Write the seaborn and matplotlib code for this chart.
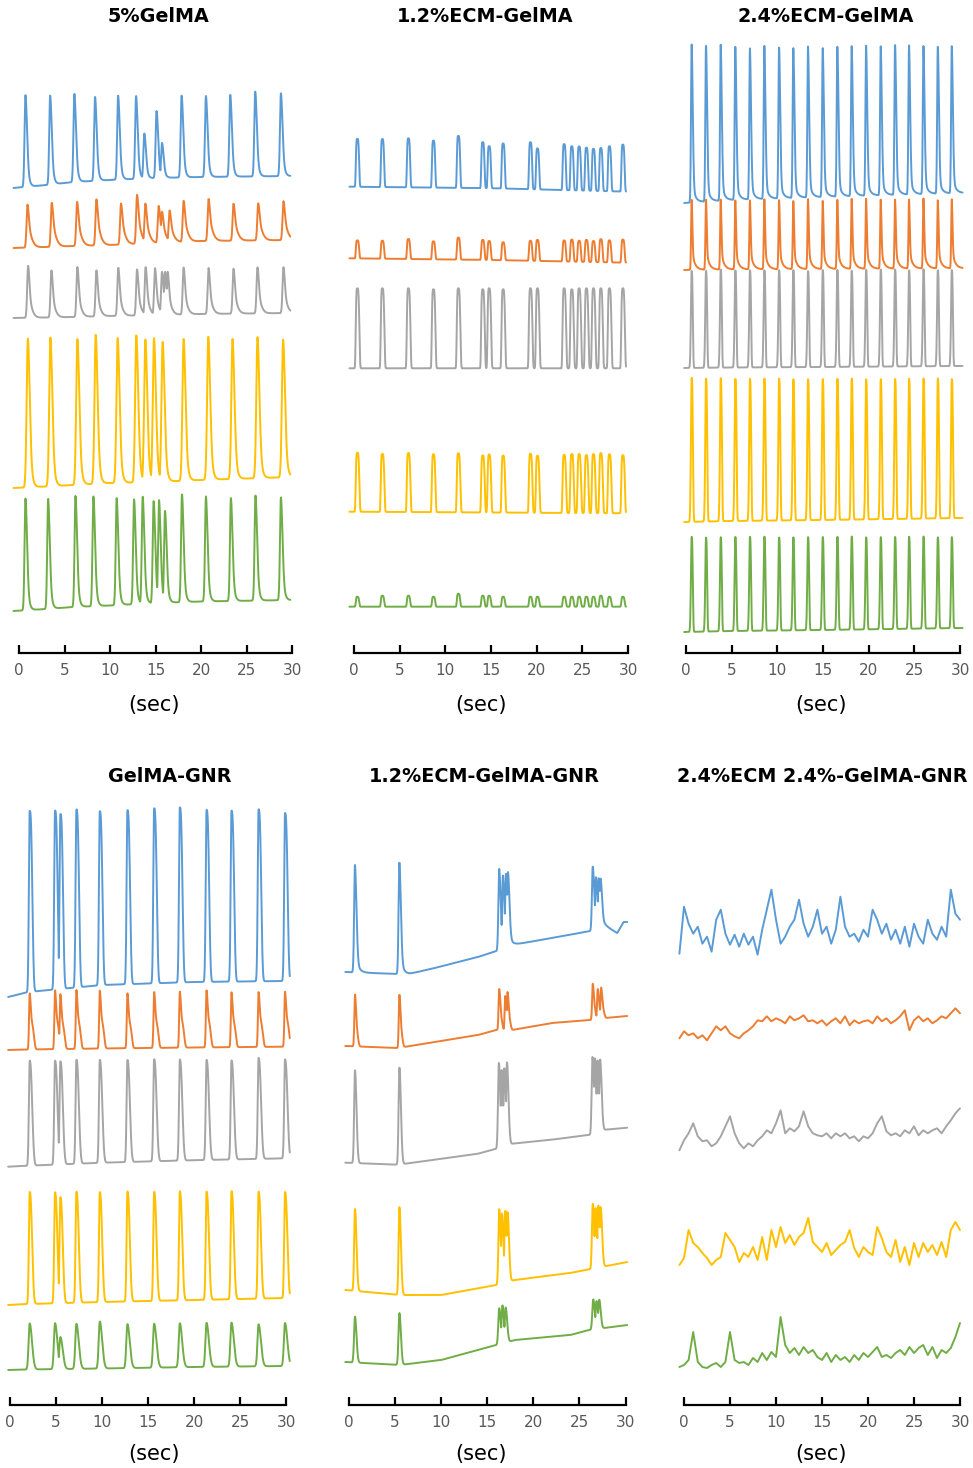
import numpy as np
import pandas as pd
import matplotlib
matplotlib.use("Agg")
import matplotlib.pyplot as plt
import seaborn as sns

# ---------------- data (ΔF, arbitrary units; times in seconds) ----------------
TRACES = ["Trace 1", "Trace 2", "Trace 3", "Trace 4", "Trace 5"]
TITLES = ["5%GelMA", "1.2%ECM-GelMA", "2.4%ECM-GelMA",
          "GelMA-GNR", "1.2%ECM-GelMA-GNR", "2.4%ECM 2.4%-GelMA-GNR"]
XTICKS = [0, 5, 10, 15, 20, 25, 30]

# Panel 1: 5%GelMA  (peak times / peak heights / baseline drift)
P1_T_BLUE = [0.71, 3.42, 6.08, 8.35, 10.88, 12.85, 13.76, 15.1, 15.7, 17.85, 20.52, 23.19, 25.93, 28.75]
P1_H_BLUE = [92, 89, 88, 84, 84, 83, 45, 67, 35, 82, 81, 82, 85, 83]
P1_T_ORANGE = [0.93, 3.6, 6.38, 8.5, 11.2, 12.96, 13.87, 15.33, 15.7, 16.53, 18.07, 20.81, 23.55, 26.26, 29.03]
P1_H_ORANGE = [43, 44, 44, 46, 41, 49, 40, 37, 31, 32, 41, 42, 37, 37, 39]
P1_T_GRAY = [1.0, 3.56, 6.41, 8.5, 10.9, 12.96, 13.9, 14.93, 15.7, 16.03, 16.32, 18.07, 20.81, 23.55, 26.18, 29.03]
P1_H_GRAY = [52, 47, 50, 46, 48, 46, 48, 47, 43, 43, 43, 47, 46, 45, 46, 46]
P1_T_YELLOW = [0.97, 3.45, 6.41, 8.42, 10.83, 12.88, 13.87, 14.82, 15.77, 18.07, 20.78, 23.44, 26.18, 28.99]
P1_H_YELLOW = [149, 149, 146, 149, 145, 147, 143, 144, 140, 142, 143, 140, 141, 138]
P1_T_GREEN = [0.71, 3.2, 6.2, 8.17, 10.72, 12.63, 13.58, 14.78, 15.37, 16.03, 17.89, 20.52, 23.26, 25.96, 28.75]
P1_H_GREEN = [112, 110, 111, 110, 107, 105, 107, 102, 103, 92, 108, 105, 103, 105, 103]
P1_DRIFT_T = [-0.6, 3, 6, 10, 15, 20, 30]
P1_DRIFT_BLUE = [0, 3, 6, 8, 10, 11, 12]
P1_DRIFT_ORANGE = [0, 1, 2, 3, 5, 7, 8]
P1_DRIFT_GRAY = [0, 0.5, 1, 2, 3, 4, 5]
P1_DRIFT_YELLOW = [0, 1.5, 3, 5, 6, 8, 11]
P1_DRIFT_GREEN = [0, 2, 4, 5.5, 8, 9.5, 11]

# Panel 2: 1.2%ECM-GelMA (all traces share peak times)
P2_T = [0.36, 3.1, 5.95, 8.69, 11.42, 14.09, 14.79, 16.32, 19.31, 20.08, 23.0, 23.84, 24.64, 25.44, 26.21, 27.02, 27.96, 29.43]
P2_H_BLUE = [48, 48, 49, 47, 52, 46, 42, 45, 47, 41, 46, 44, 44, 43, 42, 43, 45, 47]
P2_H_ORANGE = [18, 18, 20, 18, 22, 20, 19, 18, 20, 21, 21, 22, 21, 22, 21, 23, 22, 23]
P2_H_GRAY = [80, 80, 80, 79, 80, 79, 80, 79, 80, 80, 80, 79, 80, 80, 80, 80, 80, 80]
P2_H_YELLOW = [59, 58, 59, 58, 59, 57, 58, 57, 59, 57, 58, 59, 59, 58, 59, 60, 59, 58]
P2_H_GREEN = [10, 11, 11, 10, 13, 11, 11, 10, 10, 10, 10, 10, 10, 10, 10, 11, 10, 10]
P2_DRIFT_T = [-0.5, 15, 30]
P2_DRIFT_BLUE = [0, -1.5, -5]
P2_DRIFT_ORANGE = [0, -1.7, -4.4]
P2_DRIFT_GRAY = [0, 0, 0]
P2_DRIFT_YELLOW = [0, -0.8, -1.6]
P2_DRIFT_GREEN = [0, 0, 0]

# Panel 3: 2.4%ECM-GelMA
P3_T = [0.62, 2.19, 3.8, 5.4, 7.0, 8.58, 10.19, 11.75, 13.36, 14.97, 16.57, 18.14, 19.72, 21.32, 22.89, 24.42, 26.0, 27.57, 29.1]
P3_H_BLUE = [158, 157, 156, 153, 151, 153, 152, 151, 151, 150, 151, 150, 150, 149, 151, 149, 148, 148, 147]
P3_H_ORANGE = [70, 71, 70, 69, 69, 70, 70, 69, 70, 69, 70, 70, 70, 69, 70, 69, 70, 69, 69]
P3_H_GRAY = [97, 97, 98, 97, 97, 97, 97, 97, 96, 97, 97, 96, 97, 97, 97, 96, 97, 96, 96]
P3_H_YELLOW = [144, 143, 143, 142, 142, 142, 142, 141, 141, 141, 141, 141, 140, 140, 140, 140, 140, 140, 139]
P3_H_GREEN = [95, 94, 94, 94, 94, 94, 93, 93, 93, 93, 93, 93, 92, 92, 92, 92, 92, 91, 91]
P3_DRIFT_T = [-0.2, 5, 15, 30]
P3_DRIFT_BLUE = [0, 3, 6, 10]
P3_DRIFT_ORANGE = [0, 0.5, 1, 1.7]
P3_DRIFT_GRAY = [0, 0.5, 1, 2]
P3_DRIFT_YELLOW = [0, 1, 2, 4]
P3_DRIFT_GREEN = [0, 1, 2, 4]

# Panel 4: GelMA-GNR
P4_T = [2.14, 4.89, 5.47, 7.21, 9.75, 12.75, 15.65, 18.44, 21.34, 24.05, 26.99, 29.86]
P4_H_BLUE = [181, 179, 175, 178, 174, 174, 175, 175, 172, 171, 172, 168]
P4_H_ORANGE = [56, 59, 55, 59, 58, 55, 56, 56, 57, 55, 55, 55]
P4_H_GRAY = [105, 104, 103, 104, 103, 102, 102, 101, 100, 99, 101, 99]
P4_H_YELLOW = [112, 111, 106, 111, 110, 110, 109, 109, 108, 108, 107, 106]
P4_H_GREEN = [46, 46, 32, 45, 47, 44, 44, 44, 44, 44, 42, 43]
P4_DRIFT_T = [-0.2, 2, 10, 20, 30]
P4_DRIFT_BLUE = [0, 5, 12, 15, 16]
P4_DRIFT_ORANGE = [0, 0.5, 1.5, 2.5, 3.3]
P4_DRIFT_GRAY = [0, 1, 4, 6.5, 8.4]
P4_DRIFT_YELLOW = [0, 1, 3, 5, 7]
P4_DRIFT_GREEN = [0, 0.5, 1.5, 3, 4]

# Panel 5: 1.2%ECM-GelMA-GNR
P5_T_BLUE = [0.65, 5.47, 16.3, 16.7, 17.03, 17.25, 26.45, 26.8, 27.1, 27.3]
P5_H_BLUE = [108, 112, 81, 73, 74, 75, 64, 52, 50, 49]
P5_T_ORANGE = [0.65, 5.47, 16.3, 16.96, 17.2, 26.45, 26.99, 27.36]
P5_H_ORANGE = [52, 53, 41, 34, 38, 36, 30, 31]
P5_T_GRAY = [0.65, 5.47, 16.26, 16.56, 16.85, 17.14, 26.42, 26.67, 26.96, 27.25]
P5_H_GRAY = [93, 97, 85, 77, 78, 83, 77, 75, 72, 72]
P5_T_YELLOW = [0.65, 5.47, 16.3, 16.6, 16.95, 17.2, 26.45, 26.75, 27.05, 27.3]
P5_H_YELLOW = [82, 88, 75, 70, 72, 70, 65, 60, 62, 60]
P5_T_GREEN = [0.65, 5.47, 16.3, 16.65, 17.0, 26.5, 26.85, 27.15]
P5_H_GREEN = [46, 52, 36, 38, 35, 30, 28, 29]
P5_DRIFT_T_BLUE = [-0.4, 5.3, 6.5, 9.3, 14, 16, 17.7, 22, 26.2, 27.8, 29.1, 29.8]
P5_DRIFT_BLUE = [0, -2, -2, 4, 15, 21, 27, 34, 41, 46, 39, 50]
P5_DRIFT_T_OG = [-0.4, 5.3, 9.3, 14, 16, 17.7, 22, 26.2, 27.8, 30.2]
P5_DRIFT_ORANGE = [0, -2, 4, 11, 16, 16, 23, 26, 28, 30]
P5_DRIFT_GRAY = [0, -2, 3, 9, 14, 19, 23, 28, 33, 35]
P5_DRIFT_T_YELLOW = [-0.4, 5.5, 10, 16, 18, 24, 30.2]
P5_DRIFT_YELLOW = [0, -5, -5, 5, 10, 17, 28]
P5_DRIFT_T_GREEN = [-0.4, 5.5, 10, 16, 18, 24, 26, 30.2]
P5_DRIFT_GREEN = [0, -3, 2, 17, 22, 27, 32, 37]

# Panel 6: 2.4%ECM 2.4%-GelMA-GNR, read every 0.5 s from -0.5 s to 30 s
P6_T0, P6_DT = -0.5, 0.5
P6_BLUE = [3, 50, 33, 23, 30, 13, 20, 5, 37, 47, 23, 12, 22, 10, 23, 12, 20, 2, 27, 47, 67, 37, 13,
           20, 30, 37, 57, 33, 20, 30, 47, 23, 30, 13, 27, 60, 30, 20, 23, 15, 27, 20, 47, 37, 23,
           33, 17, 27, 13, 30, 10, 33, 20, 13, 37, 23, 17, 30, 20, 67, 43, 37]
P6_ORANGE = [5, 12, 8, 10, 5, 8, 3, 10, 17, 13, 17, 10, 7, 5, 10, 13, 17, 23, 22, 27, 22, 25, 23,
             20, 27, 23, 25, 28, 22, 23, 20, 23, 18, 22, 25, 20, 27, 18, 23, 20, 22, 23, 20, 27,
             22, 25, 20, 23, 27, 33, 13, 23, 27, 22, 25, 20, 23, 27, 25, 30, 35, 30]
P6_GRAY = [3, 13, 20, 30, 17, 12, 13, 7, 10, 17, 27, 37, 20, 10, 5, 10, 7, 13, 17, 23, 20, 30, 43,
           20, 25, 22, 27, 42, 27, 20, 18, 17, 20, 15, 20, 17, 20, 15, 17, 12, 17, 15, 20, 30,
           37, 22, 18, 20, 17, 23, 20, 27, 18, 23, 20, 23, 25, 20, 27, 33, 40, 45]
P6_YELLOW = [5, 12, 40, 27, 23, 17, 12, 5, 10, 13, 37, 30, 23, 8, 17, 13, 23, 10, 33, 10, 40, 23,
             43, 27, 35, 25, 33, 37, 52, 28, 23, 18, 27, 15, 20, 25, 28, 40, 22, 13, 23, 18, 15,
             43, 32, 18, 13, 30, 8, 23, 5, 27, 13, 27, 18, 25, 15, 28, 13, 40, 48, 40]
P6_GREEN = [3, 5, 10, 38, 8, 3, 2, 5, 7, 3, 8, 38, 10, 7, 8, 5, 12, 8, 17, 10, 18, 13, 53, 25,
            17, 22, 15, 23, 17, 20, 13, 10, 17, 8, 15, 10, 13, 8, 15, 10, 17, 13, 18, 23, 13, 15,
            12, 17, 20, 15, 23, 17, 22, 25, 15, 23, 12, 20, 17, 22, 33, 47]

# ---------------- layout / style ----------------
W, H = 973, 1468
COLORS = ["#5B9BD5", "#ED7D31", "#A5A5A5", "#FFC000", "#70AD47"]
PANEL_X = [(19, 292.3), (354, 628), (686, 960), (10, 286.3), (349, 625.5), (684, 960)]
ROW_Y = [(30, 653), (780, 1405)]
TITLE_POS = [(158, 16), (485, 16), (826, 16), (170, 776), (484, 776), (822, 776)]
SEC_POS = [(154, 705), (481, 705), (821, 705), (154, 1454), (481, 1454), (821, 1454)]
TRACE_SPAN = [(-0.6, 29.8), (-0.5, 29.8), (-0.2, 30.3), (-0.2, 30.4), (-0.4, 30.2)]
# vertical stacking of the five traces (baseline row of each trace, in pixels)
OFFSETS = [[188, 248, 318, 488, 611],
           [186.7, 258.3, 368.3, 511.7, 606.7],
           [203, 270, 368, 522, 632],
           [997, 1050, 1166.7, 1305, 1370],
           [972, 1046, 1162.7, 1290, 1362],
           [956.7, 1043.3, 1153.3, 1270, 1370]]


def S(r, d, p=2.0, rp=2.0, f=0.0, tau=0.3, q=1.0):
    return dict(r=r, d=d, p=p, rp=rp, f=f, tau=tau, q=q)


SHAPES = [
    [S(0.1, 0.17, f=0.3, tau=0.35, q=1.5), S(0.1, 0.14, f=0.55, tau=0.5, q=1.5),
     S(0.1, 0.14, f=0.45, tau=0.45, q=1.5), S(0.13, 0.2, f=0.3, tau=0.4, q=1.5),
     S(0.1, 0.17, f=0.3, tau=0.35, q=1.5)],
    [S(0.15, 0.19, p=4, rp=4), S(0.15, 0.19, p=4, rp=4), S(0.16, 0.21, p=4, rp=4),
     S(0.16, 0.21, p=4, rp=4), S(0.15, 0.19, p=4, rp=4)],
    [S(0.07, 0.12, f=0.15, tau=0.3), S(0.06, 0.08, f=0.3, tau=0.3), S(0.08, 0.12, p=3),
     S(0.08, 0.13, p=3), S(0.08, 0.12, p=3)],
    [S(0.09, 0.27, p=3), S(0.07, 0.1, f=0.5, tau=0.5, q=4), S(0.09, 0.26, p=2.5),
     S(0.09, 0.25, p=2.5), S(0.12, 0.25)],
    [S(0.09, 0.16, f=0.2, tau=0.3), S(0.07, 0.1, f=0.4, tau=0.35, q=3), S(0.09, 0.16),
     S(0.09, 0.16), S(0.1, 0.16)],
]


def pulse(dt, r, d, p, rp, f, tau, q):
    a = np.abs(dt)
    rise = np.exp(-0.5 * (a / r) ** rp)
    fall = (1 - f) * np.exp(-0.5 * (a / d) ** p) + f * np.exp(-(a / tau) ** q)
    return np.where(dt < 0, rise, fall)


def transient(t, times, heights, shape):
    sig = np.zeros_like(t)
    for tp, h in zip(times, heights):
        sig = np.maximum(sig, h * pulse(t - tp, **shape))
    return sig


PANELS = [
    [(P1_T_BLUE, P1_H_BLUE, P1_DRIFT_T, P1_DRIFT_BLUE),
     (P1_T_ORANGE, P1_H_ORANGE, P1_DRIFT_T, P1_DRIFT_ORANGE),
     (P1_T_GRAY, P1_H_GRAY, P1_DRIFT_T, P1_DRIFT_GRAY),
     (P1_T_YELLOW, P1_H_YELLOW, P1_DRIFT_T, P1_DRIFT_YELLOW),
     (P1_T_GREEN, P1_H_GREEN, P1_DRIFT_T, P1_DRIFT_GREEN)],
    [(P2_T, P2_H_BLUE, P2_DRIFT_T, P2_DRIFT_BLUE),
     (P2_T, P2_H_ORANGE, P2_DRIFT_T, P2_DRIFT_ORANGE),
     (P2_T, P2_H_GRAY, P2_DRIFT_T, P2_DRIFT_GRAY),
     (P2_T, P2_H_YELLOW, P2_DRIFT_T, P2_DRIFT_YELLOW),
     (P2_T, P2_H_GREEN, P2_DRIFT_T, P2_DRIFT_GREEN)],
    [(P3_T, P3_H_BLUE, P3_DRIFT_T, P3_DRIFT_BLUE),
     (P3_T, P3_H_ORANGE, P3_DRIFT_T, P3_DRIFT_ORANGE),
     (P3_T, P3_H_GRAY, P3_DRIFT_T, P3_DRIFT_GRAY),
     (P3_T, P3_H_YELLOW, P3_DRIFT_T, P3_DRIFT_YELLOW),
     (P3_T, P3_H_GREEN, P3_DRIFT_T, P3_DRIFT_GREEN)],
    [(P4_T, P4_H_BLUE, P4_DRIFT_T, P4_DRIFT_BLUE),
     (P4_T, P4_H_ORANGE, P4_DRIFT_T, P4_DRIFT_ORANGE),
     (P4_T, P4_H_GRAY, P4_DRIFT_T, P4_DRIFT_GRAY),
     (P4_T, P4_H_YELLOW, P4_DRIFT_T, P4_DRIFT_YELLOW),
     (P4_T, P4_H_GREEN, P4_DRIFT_T, P4_DRIFT_GREEN)],
    [(P5_T_BLUE, P5_H_BLUE, P5_DRIFT_T_BLUE, P5_DRIFT_BLUE),
     (P5_T_ORANGE, P5_H_ORANGE, P5_DRIFT_T_OG, P5_DRIFT_ORANGE),
     (P5_T_GRAY, P5_H_GRAY, P5_DRIFT_T_OG, P5_DRIFT_GRAY),
     (P5_T_YELLOW, P5_H_YELLOW, P5_DRIFT_T_YELLOW, P5_DRIFT_YELLOW),
     (P5_T_GREEN, P5_H_GREEN, P5_DRIFT_T_GREEN, P5_DRIFT_GREEN)],
]
P6_SERIES = [P6_BLUE, P6_ORANGE, P6_GRAY, P6_YELLOW, P6_GREEN]

sns.set_theme(style="white")
plt.rcParams["font.family"] = ["DejaVu Sans"]

fig = plt.figure(figsize=(W / 100, H / 100), dpi=100)

for i in range(6):
    x0, x30 = PANEL_X[i]
    top, spine = ROW_Y[i // 3]
    scale = (x30 - x0) / 30.0
    left = x0 - scale
    right = x30 + scale
    ax = fig.add_axes([left / W, 1 - spine / H, (right - left) / W, (spine - top) / H])
    ax.patch.set_alpha(0)

    frames = []
    if i < 5:
        t = np.arange(TRACE_SPAN[i][0], TRACE_SPAN[i][1], 0.02)
        for k, (times, heights, dk, dv) in enumerate(PANELS[i]):
            y = -OFFSETS[i][k] + np.interp(t, dk, dv) + transient(t, times, heights, SHAPES[i][k])
            frames.append(pd.DataFrame({"t": t, "y": y, "trace": TRACES[k]}))
    else:
        for k, vals in enumerate(P6_SERIES):
            t = P6_T0 + P6_DT * np.arange(len(vals))
            y = -OFFSETS[i][k] + np.asarray(vals, dtype=float)
            frames.append(pd.DataFrame({"t": t, "y": y, "trace": TRACES[k]}))
    df = pd.concat(frames, ignore_index=True)

    sns.lineplot(data=df, x="t", y="y", hue="trace", hue_order=TRACES, palette=COLORS,
                 estimator=None, sort=False, legend=False, linewidth=1.4, ax=ax)

    ax.set_xlim(-1, 31)
    ax.set_ylim(-spine, -top)
    for s in ["top", "left", "right"]:
        ax.spines[s].set_visible(False)
    ax.spines["bottom"].set_bounds(0, 30)
    ax.spines["bottom"].set_color("black")
    ax.spines["bottom"].set_linewidth(1.6)
    ax.set_xticks(XTICKS)
    ax.set_xticklabels([str(v) for v in XTICKS])
    ax.tick_params(axis="x", direction="in", length=5.8, width=1.6, color="black",
                   labelsize=11, labelcolor="#595959", pad=7.5, bottom=True)
    ax.set_yticks([])
    ax.set_xlabel("")
    ax.set_ylabel("")

    tx, ty = TITLE_POS[i]
    fig.text(tx / W, 1 - ty / H, TITLES[i], ha="center", va="center",
             fontsize=13.8, fontweight="bold", color="black")
    sx, sy = SEC_POS[i]
    fig.text(sx / W, 1 - sy / H, "(sec)", ha="center", va="center", fontsize=15, color="black")

fig.savefig("out.png", dpi=100, facecolor="white")
